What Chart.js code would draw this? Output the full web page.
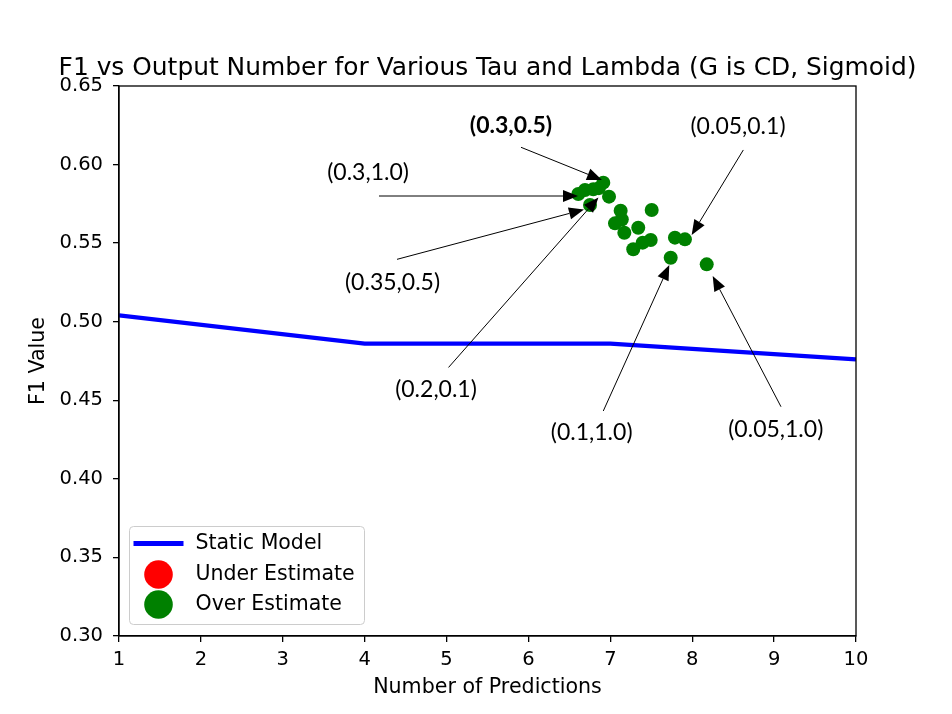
<!DOCTYPE html>
<html>
<head>
<meta charset="utf-8">
<script src="https://cdn.jsdelivr.net/npm/chart.js@4/dist/chart.umd.min.js"></script>
<style>
    body { margin: 0; background: #fff; }
    canvas { display: block; }
</style>
</head>
<body>
<canvas id="f1Chart" width="952" height="714"></canvas>
<script>
// static model line
const staticX = [1, 4, 7, 10];
const staticF1 = [0.504, 0.486, 0.486, 0.476];

// under estimate runs (none in this figure)
const underX = [];
const underF1 = [];

// over estimate runs
const overX = [6.914, 6.609, 6.691, 6.792, 6.86, 6.984, 6.752, 7.126, 7.14, 7.505, 7.057, 7.171, 7.341, 7.493, 7.395, 7.280, 7.789, 7.911, 7.737, 8.177];
const overF1 = [0.5885, 0.5813, 0.5838, 0.5843, 0.585, 0.5796, 0.5743, 0.5706, 0.565, 0.5711, 0.5626, 0.5566, 0.5598, 0.5520, 0.5503, 0.5461, 0.5535, 0.5524, 0.5407, 0.5365];

// (tau, lambda) callouts, in data units
const annoLabels = ['(0.3,0.5)', '(0.3,1.0)', '(0.35,0.5)', '(0.2,0.1)', '(0.05,0.1)', '(0.1,1.0)', '(0.05,1.0)'];
const annoBold = [true, false, false, false, false, false, false];
const annoTextX = [5.787, 4.041, 4.340, 4.871, 8.559, 6.772, 9.020];
const annoTextY = [0.6245, 0.595, 0.5246, 0.4569, 0.6239, 0.4292, 0.4311];
const annoFromX = [5.909, 4.175, 4.395, 5.024, 8.624, 6.914, 9.084];
const annoFromY = [0.611, 0.580, 0.5397, 0.4709, 0.6093, 0.4432, 0.4459];
const annoToX = [6.898, 6.605, 6.678, 6.855, 7.993, 7.720, 8.250];
const annoToY = [0.5902, 0.580, 0.5714, 0.5790, 0.5552, 0.5361, 0.5291];

const xTicks = [1, 2, 3, 4, 5, 6, 7, 8, 9, 10];
const yTicks = [0.30, 0.35, 0.40, 0.45, 0.50, 0.55, 0.60, 0.65];

const chartTitle = 'F1 vs Output Number for Various Tau and Lambda (G is CD, Sigmoid)';
const FONT = 'DejaVu Sans';
const ctx = document.getElementById('f1Chart').getContext('2d');

function toPoints(xs, ys) {
    return xs.map((x, i) => ({ x: x, y: ys[i] }));
}

// full frame plus a title centred over the axes, like matplotlib
const frameBox = {
    id: 'frameBox',
    afterDraw(chart) {
        const a = chart.chartArea;
        const c = chart.ctx;
        c.save();
        c.strokeStyle = '#000';
        c.lineWidth = 1.3;
        c.strokeRect(a.left, a.top, a.right - a.left, a.bottom - a.top);
        c.fillStyle = '#000';
        c.font = '24.9px "' + FONT + '"';
        c.textAlign = 'center';
        c.textBaseline = 'alphabetic';
        c.fillText(chartTitle, (a.left + a.right) / 2, a.top - 11);
        c.restore();
    }
};

const callouts = {
    id: 'callouts',
    afterDatasetsDraw(chart) {
        const c = chart.ctx;
        const sx = chart.scales.x;
        const sy = chart.scales.y;
        c.save();
        for (let i = 0; i < annoLabels.length; i++) {
            const x0 = sx.getPixelForValue(annoFromX[i]);
            const y0 = sy.getPixelForValue(annoFromY[i]);
            const x1 = sx.getPixelForValue(annoToX[i]);
            const y1 = sy.getPixelForValue(annoToY[i]);
            const ang = Math.atan2(y1 - y0, x1 - x0);
            const headLen = 15;
            const headHalf = 6;
            const bx = x1 - headLen * Math.cos(ang);
            const by = y1 - headLen * Math.sin(ang);
            c.strokeStyle = '#000';
            c.lineWidth = 1;
            c.beginPath();
            c.moveTo(x0, y0);
            c.lineTo(bx, by);
            c.stroke();
            c.fillStyle = '#000';
            c.beginPath();
            c.moveTo(x1, y1);
            c.lineTo(bx + headHalf * Math.sin(ang), by - headHalf * Math.cos(ang));
            c.lineTo(bx - headHalf * Math.sin(ang), by + headHalf * Math.cos(ang));
            c.closePath();
            c.fill();

            c.font = (annoBold[i] ? 'bold ' : '') + '23px Lato';
            c.textAlign = 'center';
            c.textBaseline = 'middle';
            c.fillText(annoLabels[i], sx.getPixelForValue(annoTextX[i]), sy.getPixelForValue(annoTextY[i]));
        }
        c.restore();
    }
};

// matplotlib style legend in the lower left corner
const boxLegend = {
    id: 'boxLegend',
    afterDraw(chart) {
        const a = chart.chartArea;
        const c = chart.ctx;
        const left = a.left + 10.5;
        const top = a.bottom - 109.5;
        const w = 235;
        const h = 98;
        c.save();
        c.fillStyle = 'rgba(255,255,255,0.8)';
        c.strokeStyle = '#cccccc';
        c.lineWidth = 1;
        c.beginPath();
        c.roundRect(left, top, w, h, 4);
        c.fill();
        c.stroke();

        const rows = [top + 17, top + 48, top + 78];
        chart.data.datasets.forEach((ds, i) => {
            const y = rows[i];
            if (ds.showLine) {
                c.strokeStyle = ds.borderColor;
                c.lineWidth = 5;
                c.beginPath();
                c.moveTo(left + 4, y);
                c.lineTo(left + 54, y);
                c.stroke();
            } else {
                c.fillStyle = ds.backgroundColor;
                c.beginPath();
                c.arc(left + 29, y, 14.3, 0, Math.PI * 2);
                c.fill();
            }
            c.fillStyle = '#000';
            c.font = '20.5px "' + FONT + '"';
            c.textAlign = 'left';
            c.textBaseline = 'middle';
            c.fillText(ds.label, left + 66, y);
        });
        c.restore();
    }
};

const chart = new Chart(ctx, {
    type: 'scatter',
    data: {
        datasets: [{
            label: 'Static Model',
            type: 'line',
            data: toPoints(staticX, staticF1),
            showLine: true,
            borderColor: '#0000ff',
            backgroundColor: '#0000ff',
            borderWidth: 4.3,
            pointRadius: 0,
            tension: 0,
            order: 3
        }, {
            label: 'Under Estimate',
            data: toPoints(underX, underF1),
            showLine: false,
            backgroundColor: '#ff0000',
            borderColor: '#ff0000',
            pointRadius: 7,
            borderWidth: 0,
            order: 2
        }, {
            label: 'Over Estimate',
            data: toPoints(overX, overF1),
            showLine: false,
            backgroundColor: '#008000',
            borderColor: '#008000',
            pointRadius: 7,
            borderWidth: 0,
            order: 1
        }]
    },
    options: {
        responsive: false,
        animation: false,
        devicePixelRatio: 1,
        layout: { padding: { left: 0, right: 96, top: 86, bottom: 0 } },
        plugins: {
            legend: { display: false },
            tooltip: { enabled: false },
            title: { display: false }
        },
        scales: {
            x: {
                type: 'linear',
                min: 1,
                max: 10,
                afterBuildTicks: (scale) => { scale.ticks = xTicks.map(v => ({ value: v })); },
                afterFit: (scale) => { scale.height = 78; },
                ticks: {
                    color: '#000',
                    padding: 6,
                    font: { family: FONT, size: 19.5 },
                    callback: (v) => String(v)
                },
                grid: { display: true, drawOnChartArea: false, drawTicks: true, tickLength: 6, color: '#000', lineWidth: 1.3 },
                border: { display: true, color: '#000', width: 1.3 },
                title: {
                    display: true,
                    text: 'Number of Predictions',
                    color: '#000',
                    font: { family: FONT, size: 20.6 },
                    padding: { top: 0, bottom: 14 }
                }
            },
            y: {
                type: 'linear',
                min: 0.30,
                max: 0.65,
                afterBuildTicks: (scale) => { scale.ticks = yTicks.map(v => ({ value: v })); },
                afterFit: (scale) => { scale.width = 119; },
                ticks: {
                    color: '#000',
                    padding: 10,
                    font: { family: FONT, size: 19.5 },
                    callback: (v) => Number(v).toFixed(2)
                },
                grid: { display: true, drawOnChartArea: false, drawTicks: true, tickLength: 6, color: '#000', lineWidth: 1.3 },
                border: { display: true, color: '#000', width: 1.3 },
                title: {
                    display: true,
                    text: 'F1 Value',
                    color: '#000',
                    font: { family: FONT, size: 20.6 },
                    padding: { top: 26, bottom: 0 }
                }
            }
        }
    },
    plugins: [frameBox, callouts, boxLegend]
});
</script>
</body>
</html>
